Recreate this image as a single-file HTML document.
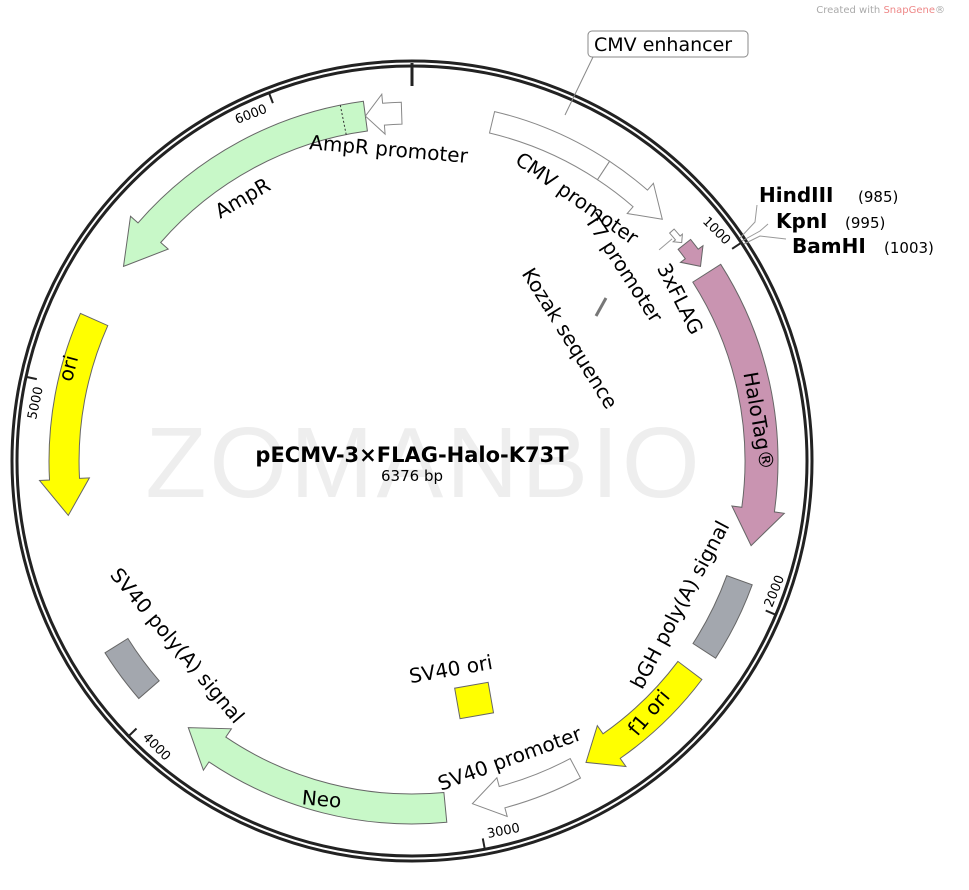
<!DOCTYPE html>
<html><head><meta charset="utf-8"><style>
body{margin:0;background:#fff;}
svg{display:block;font-family:"DejaVu Sans","Liberation Sans",sans-serif;}
</style></head><body>
<svg id="s" width="969" height="890" viewBox="0 0 969 890" xmlns="http://www.w3.org/2000/svg">
<text x="945" y="13" font-size="10" fill="#aaa" text-anchor="end">Created with <tspan fill="#e88">SnapGene</tspan>®</text>
<text x="424" y="497" font-size="100" fill="#eeeeee" text-anchor="middle" font-family="Liberation Sans, sans-serif" letter-spacing="3">ZOMANBIO</text>
<circle cx="412" cy="461" r="400" fill="none" stroke="#222" stroke-width="3"/>
<circle cx="412" cy="461" r="395" fill="none" stroke="#222" stroke-width="3"/>
<line x1="412" y1="63" x2="412" y2="86" stroke="#222" stroke-width="3"/>
<g id="shapes"></g>
<line x1="593" y1="57" x2="565" y2="115" stroke="#888" stroke-width="1"/>
<rect x="588" y="31" width="160" height="26" rx="4" fill="#fff" stroke="#888"/>
<text x="594" y="51" font-size="19">CMV enhancer</text>
<polyline points="740,238 755,222 757,205" fill="none" stroke="#999"/>
<polyline points="742,241 760,231 768,224" fill="none" stroke="#999"/>
<polyline points="744,244 760,236 786,239" fill="none" stroke="#999"/>
<text x="759" y="202" font-size="20" font-weight="bold">HindIII</text><text x="858" y="202" font-size="15">(985)</text>
<text x="776" y="228" font-size="20" font-weight="bold">KpnI</text><text x="845" y="228" font-size="15">(995)</text>
<text x="792" y="253" font-size="20" font-weight="bold">BamHI</text><text x="884" y="253" font-size="15">(1003)</text>
<text font-size="13" transform="translate(702,222) rotate(45)">1000</text>
<text font-size="13" transform="translate(772,608) rotate(-68)">2000</text>
<text font-size="13" transform="translate(488,838) rotate(-11)">3000</text>
<text font-size="13" transform="translate(142,738) rotate(45)">4000</text>
<text font-size="13" transform="translate(36,420) rotate(-78)">5000</text>
<text font-size="13" transform="translate(237,124) rotate(-21)">6000</text>
<g font-size="20" text-anchor="middle">
<text transform="translate(388,156) rotate(5)">AmpR promoter</text>
<text transform="translate(573,204) rotate(35)">CMV promoter</text>
<text transform="translate(618,272) rotate(57)">T7 promoter</text>
<text transform="translate(674,302) rotate(63)">3xFLAG</text>
<text transform="translate(564,342) rotate(58)">Kozak sequence</text>
<text transform="translate(752,422) rotate(80)">HaloTag®</text>
<text transform="translate(686,608) rotate(-62)">bGH poly(A) signal</text>
<text transform="translate(654,717) rotate(-50)">f1 ori</text>
<text transform="translate(512,765) rotate(-20)">SV40 promoter</text>
<text transform="translate(321,806) rotate(5)">Neo</text>
<text transform="translate(172,650) rotate(50)">SV40 poly(A) signal</text>
<text transform="translate(452,676) rotate(-10)">SV40 ori</text>
<text transform="translate(75,370) rotate(-75)">ori</text>
<text transform="translate(246,204) rotate(-30)">AmpR</text>
</g>
<text x="412" y="462" font-size="21" font-weight="bold" text-anchor="middle">pECMV-3×FLAG-Halo-K73T</text>
<text x="412" y="481" font-size="15" text-anchor="middle">6376 bp</text>
</svg>
<script>
var cx=412,cy=461,NS="http://www.w3.org/2000/svg";
function P(a,r){a=a*Math.PI/180;return [(cx+r*Math.sin(a)).toFixed(1),(cy-r*Math.cos(a)).toFixed(1)];}
function A(r,a,sw){var p=P(a,r);return "A"+r+","+r+" 0 0,"+sw+" "+p[0]+","+p[1];}
function M(a,r){var p=P(a,r);return p[0]+","+p[1];}
function feat(a1,a2,r1,r2,dir,h,e,fill,stroke){
 var d,m=(r1+r2)/2;
 if(dir==1){var b=a2-h;d="M"+M(a1,r2)+A(r2,b,1)+"L"+M(b,r2+e)+"L"+M(a2,m)+"L"+M(b,r1-e)+"L"+M(b,r1)+A(r1,a1,0)+"Z";}
 else if(dir==-1){var b=a1+h;d="M"+M(b,r2)+A(r2,a2,1)+"L"+M(a2,r1)+A(r1,b,0)+"L"+M(b,r1-e)+"L"+M(a1,m)+"L"+M(b,r2+e)+"Z";}
 else {d="M"+M(a1,r2)+A(r2,a2,1)+"L"+M(a2,r1)+A(r1,a1,0)+"Z";}
 var p=document.createElementNS(NS,"path");p.setAttribute("d",d);p.setAttribute("fill",fill);p.setAttribute("stroke",stroke||"#666");p.setAttribute("stroke-width","1");
 document.getElementById("shapes").appendChild(p);}
function line(a,r1,r2,c,w,dash){var p=P(a,r1),q=P(a,r2),l=document.createElementNS(NS,"line");
 l.setAttribute("x1",p[0]);l.setAttribute("y1",p[1]);l.setAttribute("x2",q[0]);l.setAttribute("y2",q[1]);l.setAttribute("stroke",c);l.setAttribute("stroke-width",w);if(dash)l.setAttribute("stroke-dasharray",dash);document.getElementById("shapes").appendChild(l);}
var G="#c8f8c8",Y="#ffff00",K="#c994b1",S="#a3a7ae",W="#fff";
feat(13.3,33.4,337,359,0,0,0,W,"#888");
feat(33.4,46,337,359,1,5,9,W,"#888");
feat(48.5,51,344,350,1,1,3,W,"#888");
feat(51.5,56,340,356,1,2.5,6,K);
feat(57.5,104,333,366,1,6,10,K);
feat(110,123,335,362,0,0,0,S);
feat(127,150,333,363,1,5,10,Y);
feat(152,170,337,359,1,5,9,W,"#888");
feat(174.5,220,333,363,1,6,10,G);
feat(229,238,335,362,0,0,0,S);
feat(261,294,333,363,-1,6,10,Y);
feat(304,352.3,333,363,-1,7,10,G);
feat(352.3,358.3,337,359,-1,3,9,W,"#888");
line(348.6,333,363,"#333",1,"2,2");
[56.46,112.92,169.38,225.85,282.31,338.77].forEach(function(a){line(a,384,396,"#222",2);});
line(49.5,325,342,"#999",1);
var k=document.createElementNS(NS,"line");k.setAttribute("x1","596");k.setAttribute("y1","316");k.setAttribute("x2","606");k.setAttribute("y2","298");k.setAttribute("stroke","#777");k.setAttribute("stroke-width","3");document.getElementById("shapes").appendChild(k);
var r=document.createElementNS(NS,"rect");r.setAttribute("x","457");r.setAttribute("y","685");r.setAttribute("width","34");r.setAttribute("height","31");r.setAttribute("fill",Y);r.setAttribute("stroke","#666");r.setAttribute("transform","rotate(-10 474 700)");document.getElementById("shapes").appendChild(r);
</script>
</body></html>
